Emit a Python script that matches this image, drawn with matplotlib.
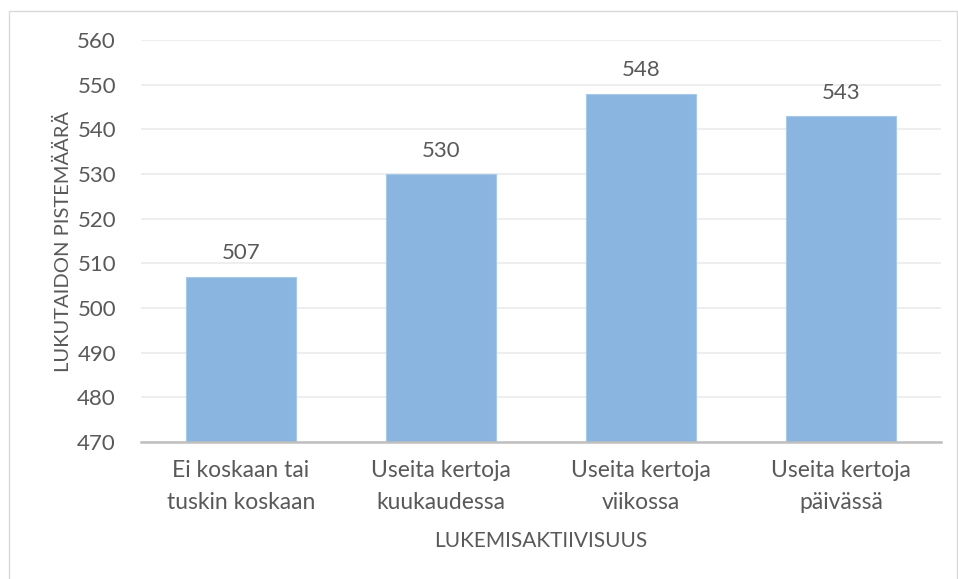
import matplotlib.pyplot as plt
from matplotlib.patches import Rectangle

# Data
categories = ['Ei koskaan tai\ntuskin koskaan', 'Useita kertoja\nkuukaudessa',
              'Useita kertoja\nviikossa', 'Useita kertoja\npäivässä']
scores = [507, 530, 548, 543]
y_ticks = [470, 480, 490, 500, 510, 520, 530, 540, 550, 560]

TEXT = '#595959'
plt.rcParams['font.family'] = ['Lato', 'DejaVu Sans']

fig = plt.figure(figsize=(9.58, 5.79), dpi=100)
# light frame around the chart area
fig.patches.append(Rectangle((9 / 958, -0.01), 948 / 958, 1 - 11 / 579 + 0.01,
                             transform=fig.transFigure, fill=False,
                             edgecolor='#D9D9D9', linewidth=1))

ax = fig.add_axes([141 / 958, 1 - 442 / 579, 800 / 958, 402 / 579])
x = range(len(categories))
bars = ax.bar(x, [s - y_ticks[0] for s in scores], bottom=y_ticks[0], width=0.55,
              color='#8AB5E0', edgecolor='#A8C8EA', linewidth=0.8, zorder=2)

for xi, s in zip(x, scores):
    ax.text(xi, s + 3.0, str(s), ha='center', va='bottom', fontsize=16, color=TEXT)

ax.set_xlim(-0.5, len(categories) - 0.5)
ax.set_ylim(y_ticks[0], y_ticks[-1])
ax.set_yticks(y_ticks)
ax.set_xticks(list(x))
ax.set_xticklabels(categories, fontsize=16.5, color=TEXT, linespacing=1.65)
ax.tick_params(axis='y', labelsize=16, labelcolor=TEXT, length=0, pad=18)
ax.tick_params(axis='x', length=0, pad=13)
ax.grid(axis='y', color='#EBEBEB', linewidth=1.2, zorder=0)
ax.set_axisbelow(True)
for side in ['top', 'right', 'left']:
    ax.spines[side].set_visible(False)
ax.spines['bottom'].set_color('#BFBFBF')
ax.spines['bottom'].set_linewidth(1.8)
ax.spines['bottom'].set_zorder(3)

ax.set_ylabel('LUKUTAIDON PISTEMÄÄRÄ', fontsize=14.5, color=TEXT, labelpad=4)
ax.set_xlabel('LUKEMISAKTIIVISUUS', fontsize=15, color=TEXT, labelpad=13)

fig.savefig('out.png', dpi=100)
